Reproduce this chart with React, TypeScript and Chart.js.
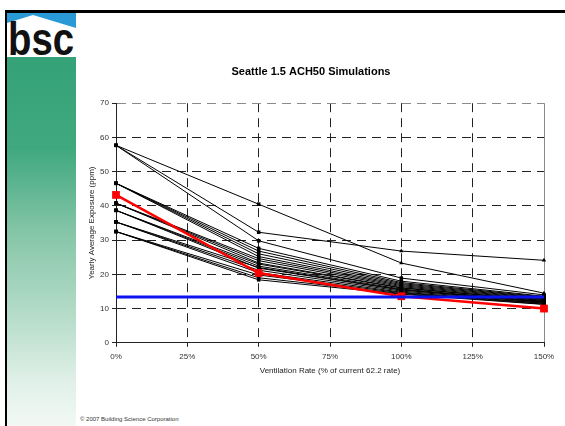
import React, { useEffect, useRef } from "react";
import { Chart, registerables } from "chart.js";

Chart.register(...registerables);

// Ventilation rate (% of current 62.2 rate)
const rates = [0, 50, 100, 150];
const xTickValues = [0, 25, 50, 75, 100, 125, 150];

// Yearly average exposure (ppm) per simulation
const sim01 = [57.7, 40.5, 23.3, 14.5];
const sim02 = [57.7, 32.3, 26.8, 24.1];
const sim03 = [57.7, 29.8, 18.9, 14.0];
const sim04 = [46.6, 27.6, 18.0, 13.6];
const sim05 = [46.6, 26.8, 17.6, 13.4];
const sim06 = [46.6, 26.0, 17.3, 13.2];
const sim07 = [46.6, 25.2, 17.0, 13.0];
const sim08 = [40.8, 24.6, 16.7, 12.8];
const sim09 = [40.8, 24.0, 16.4, 12.6];
const sim10 = [40.8, 23.3, 16.1, 12.4];
const sim11 = [38.7, 23.0, 16.0, 12.3];
const sim12 = [38.7, 22.4, 15.7, 12.1];
const sim13 = [38.7, 21.8, 15.4, 11.9];
const sim14 = [35.3, 22.0, 15.5, 12.0];
const sim15 = [35.3, 21.2, 15.1, 11.8];
const sim16 = [35.3, 20.5, 14.8, 11.6];
const sim17 = [32.5, 19.8, 14.6, 11.5];
const sim18 = [32.5, 19.0, 14.4, 11.3];
const sim19 = [32.5, 18.4, 14.2, 11.2];
const highlighted = [43.2, 20.4, 13.6, 10.0];

const targetRates = [0, 150];
const targetLevel = [13.4, 13.4];

const blackSims = [
  sim01, sim02, sim03, sim04, sim05, sim06, sim07, sim08, sim09, sim10,
  sim11, sim12, sim13, sim14, sim15, sim16, sim17, sim18, sim19,
];

const FONT = "'Liberation Sans', Arial, sans-serif";

export default function App() {
  const canvasRef = useRef<HTMLCanvasElement | null>(null);

  useEffect(() => {
    const canvas = canvasRef.current;
    if (!canvas) return;

    const blackDatasets = blackSims.map((s, k) => ({
      data: rates.map((r, i) => ({ x: r, y: s[i] })),
      borderColor: "#000",
      backgroundColor: "#000",
      borderWidth: 1,
      pointStyle: k < 2 ? ["rect", "rect", "triangle", "triangle"] : "rect",
      pointRadius: 2.5,
      pointBorderWidth: 0,
      tension: 0,
      clip: false,
      order: 3,
    }));

    const chart = new Chart(canvas, {
      type: "line",
      data: {
        datasets: [
          {
            data: targetRates.map((r, i) => ({ x: r, y: targetLevel[i] })),
            borderColor: "#0a14f0",
            backgroundColor: "#0a14f0",
            borderWidth: 3,
            pointRadius: 0,
            tension: 0,
            clip: false,
            order: 1,
          },
          {
            data: rates.map((r, i) => ({ x: r, y: highlighted[i] })),
            borderColor: "#ff0000",
            backgroundColor: "#ff0000",
            borderWidth: 2.5,
            pointStyle: "rect",
            pointRadius: 5.5,
            pointBorderWidth: 0,
            tension: 0,
            clip: false,
            order: 2,
          },
          ...blackDatasets,
        ] as any,
      },
      options: {
        animation: false,
        responsive: false,
        events: [],
        layout: { padding: { left: 0, right: 16, top: 0, bottom: 9 } },
        plugins: {
          legend: { display: false },
          tooltip: { enabled: false },
          title: {
            display: true,
            text: "Seattle 1.5 ACH50 Simulations",
            color: "#000",
            font: { family: FONT, size: 11, weight: "bold" },
            padding: { top: 25, bottom: 25 },
          },
        },
        scales: {
          x: {
            type: "linear",
            min: 0,
            max: 150,
            afterBuildTicks: (scale: any) => {
              scale.ticks = xTickValues.map((v) => ({ value: v }));
            },
            ticks: {
              callback: (v: any) => v + "%",
              color: "#333",
              font: { family: FONT, size: 8 },
              padding: 5,
              maxRotation: 0,
              autoSkip: false,
            },
            grid: {
              color: (ctx: any) => (ctx.tick && ctx.tick.value === 150 ? "#8a8a8a" : "#222"),
              lineWidth: 1,
              tickLength: 4,
              tickColor: "#222",
              drawTicks: true,
            },
            border: {
              display: true,
              color: "#222",
              width: 1,
              dash: (ctx: any) =>
                ctx.tick && (ctx.tick.value === 0 || ctx.tick.value === 150) ? [] : [9, 6],
            },
            title: {
              display: true,
              text: "Ventilation Rate (% of current 62.2 rate)",
              color: "#222",
              font: { family: FONT, size: 8 },
              padding: { top: 0, bottom: 0 },
            },
          },
          y: {
            min: 0,
            max: 70,
            afterFit: (scale: any) => {
              scale.width = 38;
            },
            ticks: {
              stepSize: 10,
              color: "#333",
              font: { family: FONT, size: 8 },
              padding: 3,
            },
            grid: {
              color: (ctx: any) => (ctx.tick && ctx.tick.value === 70 ? "#8a8a8a" : "#222"),
              lineWidth: 1,
              tickLength: 4,
              tickColor: "#222",
              drawTicks: true,
            },
            border: {
              display: true,
              color: "#222",
              width: 1,
              dash: (ctx: any) => (ctx.tick && ctx.tick.value === 0 ? [] : [9, 6]),
            },
            title: {
              display: true,
              text: "Yearly Average Exposure (ppm)",
              color: "#222",
              font: { family: FONT, size: 8 },
              padding: { top: 9, bottom: 0 },
            },
          },
        },
      } as any,
    });

    return () => chart.destroy();
  }, []);

  return (
    <div
      style={{
        position: "absolute",
        left: 0,
        top: 0,
        width: 565,
        height: 426,
        background: "#fff",
        overflow: "hidden",
        fontFamily: FONT,
      }}
    >
      {/* frame lines */}
      <div style={{ position: "absolute", left: 5, top: 10, width: 560, height: 3, background: "#000" }} />
      <div style={{ position: "absolute", left: 5, top: 10, width: 2, height: 416, background: "#000" }} />
      {/* green side bar */}
      <div
        style={{
          position: "absolute",
          left: 7,
          top: 57,
          width: 69,
          height: 369,
          background:
            "linear-gradient(to bottom, #35a278 0%, #40a87f 25%, #86c6a8 48%, #b5dcc9 70%, #e0f0e8 88%, #f2f9f5 100%)",
        }}
      />
      {/* logo */}
      <svg style={{ position: "absolute", left: 7, top: 13 }} width={69} height={44}>
        <rect x={0} y={0} width={69} height={44} fill="#2a9ad6" />
        <polygon points="0,10 26,2 69,15 69,44 0,44" fill="#ffffff" />
        <text
          x={1}
          y={42}
          fontFamily={FONT}
          fontWeight="bold"
          fontSize={46}
          fill="#111"
          textLength={66}
          lengthAdjust="spacingAndGlyphs"
        >
          bsc
        </text>
      </svg>
      <canvas
        ref={canvasRef}
        width={482}
        height={345}
        style={{ position: "absolute", left: 78, top: 40, width: 482, height: 345, display: "block" }}
      />
      <div
        style={{
          position: "absolute",
          left: 80,
          top: 415,
          fontSize: 6,
          color: "#333",
          whiteSpace: "nowrap",
          lineHeight: "8px",
        }}
      >
        © 2007 Building Science Corporation
      </div>
    </div>
  );
}
